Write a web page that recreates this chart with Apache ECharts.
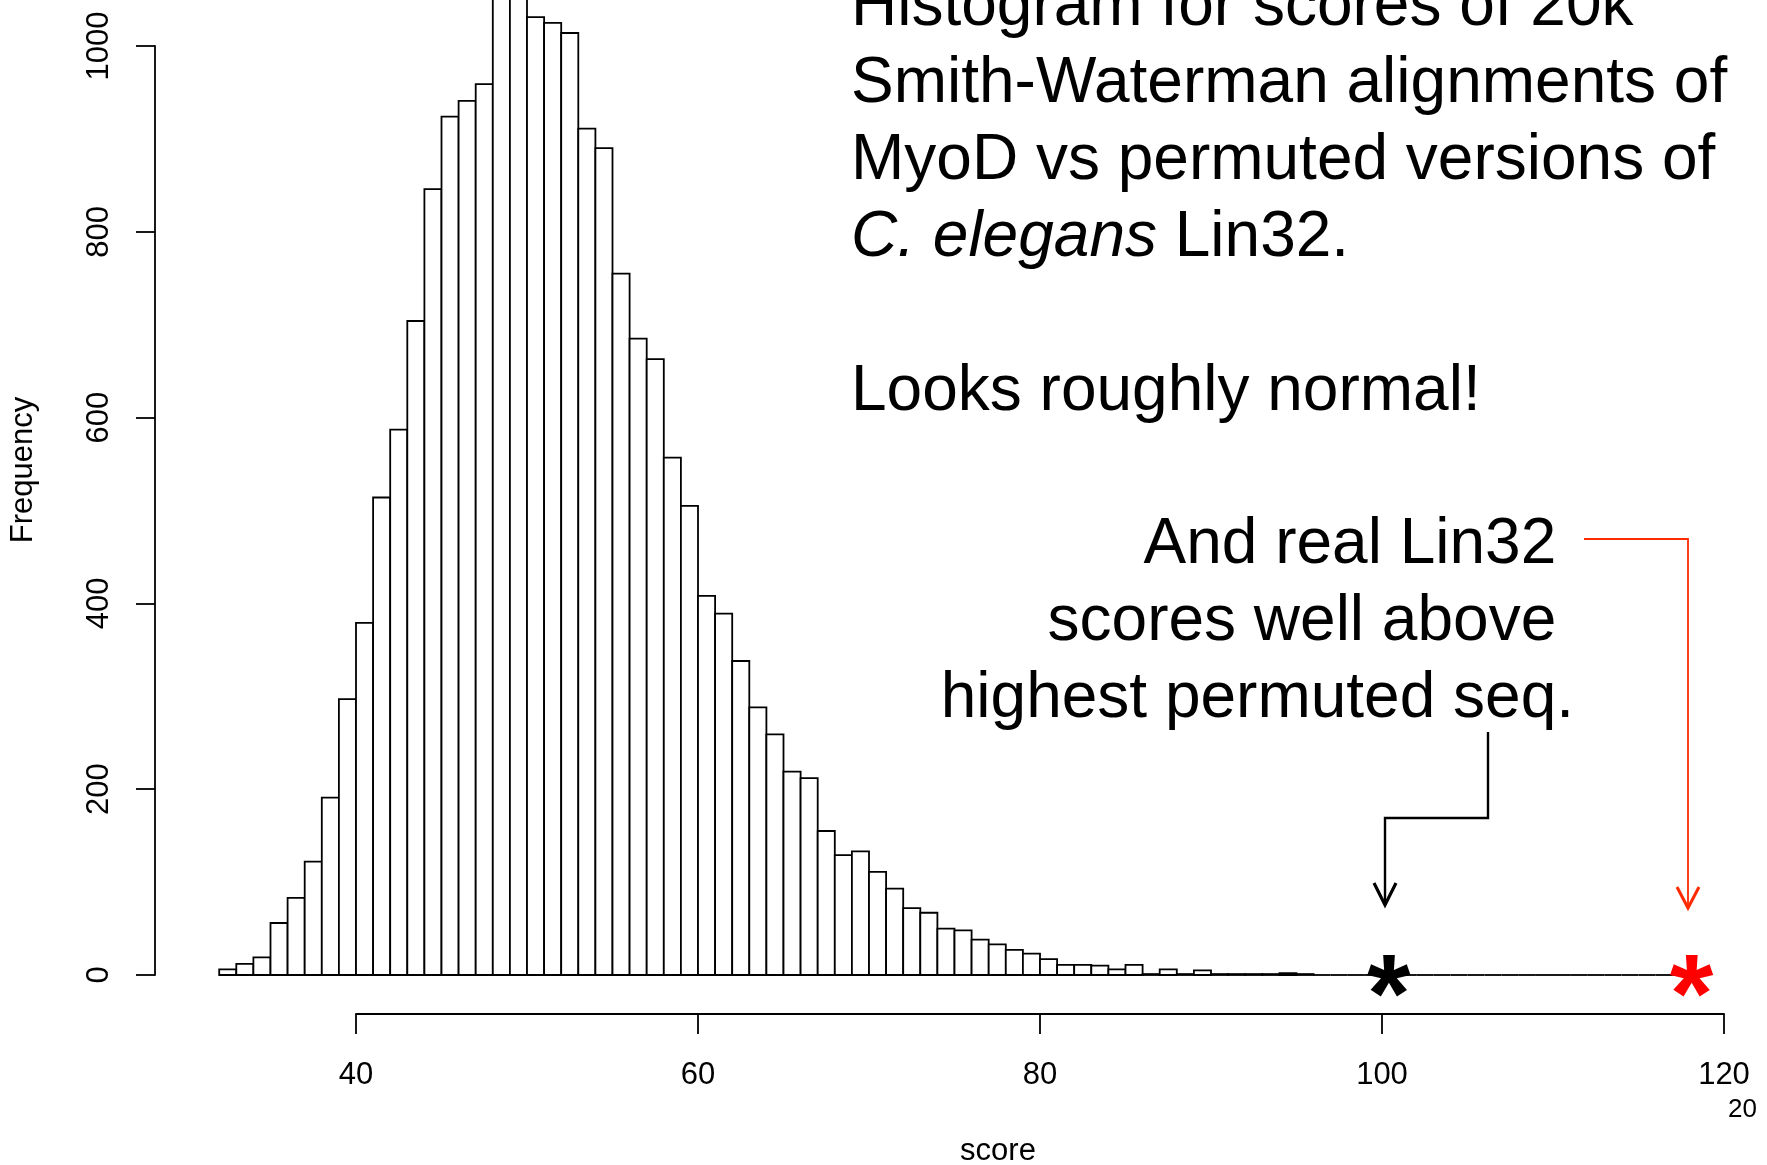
<!DOCTYPE html>
<html>
<head>
<meta charset="utf-8">
<title>Smith-Waterman score histogram</title>
<script src="https://cdn.jsdelivr.net/npm/echarts@6.0.0/dist/echarts.min.js"></script>
<style>
  html, body { margin: 0; padding: 0; background: #fff; }
  #main { width: 1767px; height: 1165px; }
</style>
</head>
<body>
<div id="main"></div>
<script>
// histogram: bins of width 1 starting at score 32
var firstBreak = 32;
var binWidth = 1;
var counts = [
  6, 12, 19, 56, 83, 122, 191, 297,            // 32-39
  379, 514, 587, 704, 846, 924, 941, 959,      // 40-47
  1068, 1078, 1031, 1025, 1014, 911, 890, 755, // 48-55
  685, 663, 557, 505, 408, 389, 338, 288,      // 56-63
  259, 219, 212, 155, 129, 133, 111, 93,       // 64-71
  72, 67, 50, 48, 38, 33, 27, 23,              // 72-79
  17, 11, 11, 10, 6, 11, 1, 6,                 // 80-87
  1, 5, 1, 1, 1, 1, 2, 1,                      // 88-95
  0, 0, 0, 0, 0, 0, 0, 0, 0, 0, 0,             // 96-106
  0, 0, 0, 0, 0, 0, 0, 0, 0, 0, 0              // 107-117
];
var xTicks = [40, 60, 80, 100, 120];
var yTicks = [0, 200, 400, 600, 800, 1000];
// stars on the slide: top permuted score, real Lin32 score
var permutedMax = [100.4];
var realLin32 = [118.1];

var FONT = "'Liberation Sans', Arial, Helvetica, sans-serif";
var LW = 1.8;

var histData = counts.map(function(c, i) {
  var lo = firstBreak + i * binWidth;
  return [lo, lo + binWidth, c];
});

function renderBin(params, api) {
  var p0 = api.coord([api.value(0), 0]);
  var p1 = api.coord([api.value(1), api.value(2)]);
  if (api.value(2) === 0) {
    return { type: 'line', shape: { x1: p0[0], y1: p0[1], x2: p1[0], y2: p0[1] },
      style: { stroke: '#000', lineWidth: LW } };
  }
  return {
    type: 'rect',
    shape: { x: p0[0], y: p1[1], width: p1[0] - p0[0], height: p0[1] - p1[1] },
    style: { fill: '#fff', stroke: '#000', lineWidth: LW }
  };
}

function starSeries(vals, color) {
  return {
    type: 'scatter', xAxisIndex: 0, yAxisIndex: 0, silent: true, z: 5,
    symbol: 'circle', symbolSize: 1,
    itemStyle: { color: 'rgba(0,0,0,0)', opacity: 1 },
    data: vals.map(function(v) { return [v, 0]; }),
    label: {
      show: true, position: 'inside', formatter: '*', offset: [0, 26],
      color: color, fontSize: 112, fontWeight: 'bold', fontFamily: FONT,
      textBorderWidth: 0, opacity: 1
    }
  };
}

function txt(x, y, s, size, align, extra) {
  var st = { text: s, x: 0, y: 0, fill: '#000', font: size + 'px ' + FONT,
    align: align || 'left', verticalAlign: 'middle' };
  if (extra) for (var k in extra) st[k] = extra[k];
  return { type: 'text', x: x, y: y, style: st, z: 10 };
}

var BIG = 64;
var bigLine = function(y, s, extra) { return txt(851, y - 18, s, BIG, 'left', extra); };
var rightLine = function(y, s) { return txt(1574, y - 18, s, BIG, 'right'); };
var plainNum = function(v) { return String(v); };

var myChart = echarts.init(document.getElementById('main'), null, { renderer: 'canvas' });

var option = {
  animation: false,
  backgroundColor: '#fff',
  grid: [
    { left: 219.2, right: 43, top: 46, bottom: 190 },
    { left: 356, right: 43, top: 46, bottom: 190 }
  ],
  xAxis: [
    { gridIndex: 0, type: 'value', min: firstBreak, max: 120, show: false },
    {
      gridIndex: 1, type: 'value', min: xTicks[0], max: xTicks[xTicks.length - 1],
      interval: xTicks[1] - xTicks[0], position: 'bottom', offset: 39,
      axisLine: { show: true, onZero: false, lineStyle: { color: '#000', width: LW } },
      axisTick: { show: true, length: 20, lineStyle: { color: '#000', width: LW } },
      axisLabel: { color: '#000', fontSize: 31, fontFamily: FONT, margin: 46, formatter: plainNum },
      splitLine: { show: false }
    }
  ],
  yAxis: [
    {
      gridIndex: 0, type: 'value', min: yTicks[0], max: yTicks[yTicks.length - 1],
      interval: yTicks[1] - yTicks[0], position: 'left', offset: 64.2,
      axisLine: { show: true, onZero: false, lineStyle: { color: '#000', width: LW } },
      axisTick: { show: true, length: 19, lineStyle: { color: '#000', width: LW } },
      axisLabel: { color: '#000', fontSize: 31, fontFamily: FONT, rotate: 90, margin: 40, formatter: plainNum },
      splitLine: { show: false }
    },
    { gridIndex: 1, type: 'value', min: 0, max: 1000, show: false }
  ],
  series: [
    {
      type: 'custom', xAxisIndex: 0, yAxisIndex: 0, silent: true, clip: false,
      renderItem: renderBin, encode: { x: [0, 1], y: 2 }, data: histData
    },
    starSeries(permutedMax, '#000'),
    starSeries(realLin32, '#ff0000')
  ],
  graphic: [
    txt(23, 470, 'Frequency', 31, 'center', null),
    txt(998, 1151, 'score', 31, 'center'),
    txt(1728, 1110, '20', 26, 'left'),

    bigLine(25, 'Histogram for scores of 20k'),
    bigLine(102, 'Smith-Waterman alignments of'),
    bigLine(179, 'MyoD vs permuted versions of'),
    bigLine(256, '{i|C. elegans} Lin32.', { rich: { i: { font: 'italic ' + BIG + 'px ' + FONT, fill: '#000' } } }),
    bigLine(410, 'Looks roughly normal!'),

    rightLine(563, 'And real Lin32 '),
    rightLine(640, 'scores well above '),
    rightLine(717, 'highest permuted seq.'),

    // black arrow to the top permuted score
    { type: 'polyline', z: 10, shape: { points: [[1488, 732], [1488, 818], [1385, 818], [1385, 903]] },
      style: { stroke: '#000', lineWidth: 2.4, fill: null } },
    { type: 'polyline', z: 10, shape: { points: [[1374, 883], [1385, 905], [1396, 883]] },
      style: { stroke: '#000', lineWidth: 3.2, fill: null } },
    // red arrow to the real Lin32 score
    { type: 'polyline', z: 10, shape: { points: [[1584, 539], [1688, 539], [1688, 906]] },
      style: { stroke: '#ff2a00', lineWidth: 1.8, fill: null } },
    { type: 'polyline', z: 10, shape: { points: [[1677, 887], [1688, 908], [1699, 887]] },
      style: { stroke: '#ff2a00', lineWidth: 3, fill: null } }
  ]
};

// rotate the y axis title
option.graphic[0].rotation = Math.PI / 2;

myChart.setOption(option);
</script>
</body>
</html>
